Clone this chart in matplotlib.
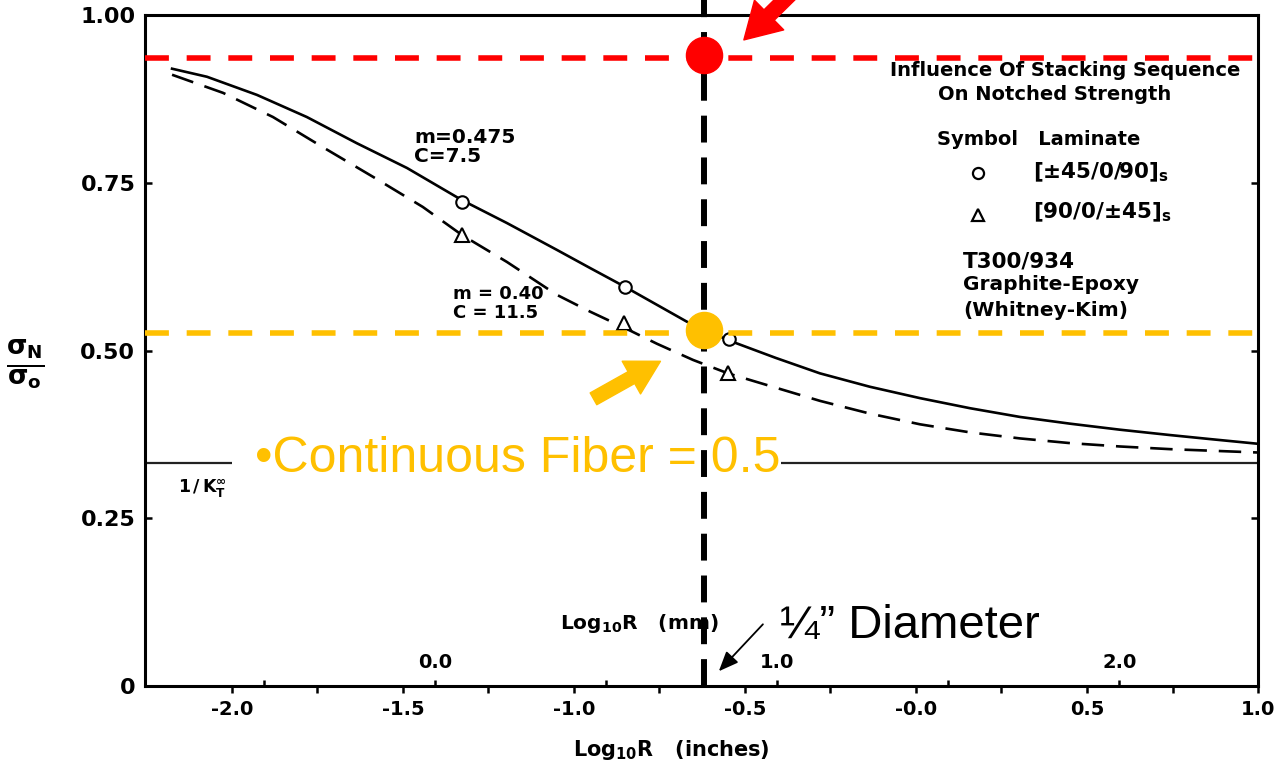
import matplotlib.pyplot as plt
from matplotlib.patches import FancyArrowPatch

# --- data (x = log10 R in inches) ---
solid_x = [-2.175, -2.073, -1.927, -1.781, -1.635, -1.488, -1.327, -1.196, -1.050, -0.953,
           -0.851, -0.757, -0.670, -0.547, -0.410, -0.281, -0.135, 0.012, 0.158, 0.304,
           0.450, 0.596, 0.743, 0.860, 1.000]
solid_y = [0.920, 0.908, 0.881, 0.848, 0.809, 0.772, 0.724, 0.690, 0.650, 0.623,
           0.595, 0.568, 0.543, 0.515, 0.489, 0.466, 0.446, 0.429, 0.414, 0.401,
           0.391, 0.382, 0.374, 0.368, 0.361]

dash_x = [-2.175, -2.026, -1.880, -1.734, -1.588, -1.442, -1.327, -1.196, -1.050, -0.953,
          -0.857, -0.757, -0.652, -0.550, -0.406, -0.281, -0.135, 0.012, 0.158, 0.304,
          0.450, 0.596, 0.743, 1.000]
dash_y = [0.911, 0.884, 0.848, 0.803, 0.759, 0.714, 0.672, 0.632, 0.583, 0.558,
          0.535, 0.510, 0.486, 0.466, 0.444, 0.425, 0.406, 0.390, 0.378, 0.369,
          0.362, 0.357, 0.353, 0.348]

circ_x = [-1.327, -0.851, -0.547]   # [+-45/0/90]s
circ_y = [0.721, 0.595, 0.517]
tri_x = [-1.327, -0.855, -0.550]    # [90/0/+-45]s
tri_y = [0.672, 0.541, 0.466]

kt_level = 0.332          # 1/K_T infinity
hole_x = -0.62            # 1/4" diameter hole
red_level = 0.936
red_pt = 0.940
orange_level = 0.526
orange_pt = 0.531

x_major = [-2.0, -1.5, -1.0, -0.5, 0.0, 0.5, 1.0]
x_major_labels = ['-2.0', '-1.5', '-1.0', '-0.5', '-0.0', '0.5', '1.0']
x_minor = [-1.75, -1.25, -0.75, -0.25, 0.25, 0.75]
y_ticks = [0, 0.25, 0.5, 0.75, 1.0]
y_labels = ['0', '0.25', '0.50', '0.75', '1.00']
mm_ticks = [-0.5, 0.0, 0.5, 1.0, 1.5, 2.0]
mm_labels = ['', '0.0', '', '1.0', '', '2.0']
mm_offset = 1.405          # log10(25.4)

ORANGE = '#FFC000'
RED = '#FF0000'
SCAN = dict(family='DejaVu Sans', fontweight='bold')

fig = plt.figure(figsize=(12.79, 7.67), dpi=100)
ax = fig.add_axes([0.1134, 0.1056, 0.8702, 0.8748])
ax.set_xlim(-2.254, 1.0)
ax.set_ylim(0, 1.0)

# fitted curves and test points
ax.plot(solid_x, solid_y, color='black', lw=1.9, zorder=3)
ax.plot(dash_x, dash_y, color='black', lw=1.9, linestyle=(0, (8.5, 4.5)), zorder=3)
ax.plot(circ_x, circ_y, 'o', ms=9, mfc='white', mec='black', mew=1.5, zorder=4)
ax.plot(tri_x, tri_y, '^', ms=10, mfc='white', mec='black', mew=1.5, zorder=4)

# 1/K_T line (broken where the overlay text sits)
ax.hlines([kt_level, kt_level], [-2.254, -0.395], [-2.0, 1.0], color='#222222', lw=1.6, zorder=2)
ax.text(-2.158, 0.288, r'$\mathbf{1\,/\,K}_{\mathbf{T}}^{\mathbf{\infty}}$', fontsize=12.5,
        ha='left', va='baseline')

# overlay reference lines
ax.axhline(red_level, color=RED, lw=4, linestyle=(0, (4.3, 3.2)), zorder=5)
ax.axhline(orange_level, color=ORANGE, lw=4, linestyle=(0, (4.3, 3.2)), zorder=5)
ax.plot([hole_x, hole_x], [0, 1.03], color='black', lw=4.3, linestyle=(0, (4.5, 2.5)),
        clip_on=False, zorder=6)
ax.plot([hole_x], [red_pt], 'o', ms=26, color=RED, zorder=7, clip_on=False)
ax.plot([hole_x], [orange_pt], 'o', ms=26, color=ORANGE, zorder=7)

# arrows
ax.add_patch(FancyArrowPatch((-0.30, 1.065), (-0.509, 0.960),
                             arrowstyle='simple,head_width=2.0,head_length=1.7,tail_width=0.7',
                             mutation_scale=15, color=RED, clip_on=False, zorder=8))
ax.add_patch(FancyArrowPatch((-0.950, 0.426), (-0.740, 0.486),
                             arrowstyle='simple,head_width=1.8,head_length=1.6,tail_width=0.65',
                             mutation_scale=15, color=ORANGE, zorder=8))
ax.add_patch(FancyArrowPatch((-0.442, 0.095), (-0.582, 0.019),
                             arrowstyle='-|>,head_width=0.25,head_length=0.6',
                             mutation_scale=20, color='black', lw=1.3, zorder=8))

# curve labels
ax.text(-1.468, 0.804, 'm=0.475\nC=7.5', fontsize=14.5, ha='left', va='center',
        linespacing=1.0, **SCAN)
ax.text(-1.355, 0.57, 'm = 0.40\nC = 11.5', fontsize=13, ha='left', va='center',
        linespacing=1.05, **SCAN)

# key block
ax.text(0.436, 0.918, 'Influence Of Stacking Sequence', fontsize=14, ha='center', va='center', **SCAN)
ax.text(0.406, 0.881, 'On Notched Strength', fontsize=14, ha='center', va='center', **SCAN)
ax.text(0.061, 0.814, 'Symbol   Laminate', fontsize=14, ha='left', va='center', **SCAN)
ax.plot([0.181], [0.765], 'o', ms=8, mfc='white', mec='black', mew=1.6)
ax.plot([0.181], [0.702], '^', ms=9, mfc='white', mec='black', mew=1.6)
ax.text(0.342, 0.765, r'[$\mathbf{\pm}$45/0/90]$_{\mathbf{s}}$', fontsize=15.5, ha='left',
        va='center', **SCAN)
ax.text(0.342, 0.706, r'[90/0/$\mathbf{\pm}$45]$_{\mathbf{s}}$', fontsize=15.5, ha='left',
        va='center', **SCAN)
ax.text(0.137, 0.632, 'T300/934', fontsize=15.5, ha='left', va='center', **SCAN)
ax.text(0.137, 0.598, 'Graphite-Epoxy', fontsize=14.5, ha='left', va='center', **SCAN)
ax.text(0.137, 0.559, '(Whitney-Kim)', fontsize=14.5, ha='left', va='center', **SCAN)

# overlay texts
ax.text(-1.933, 0.319, '\u2022Continuous Fiber = 0.5', fontsize=36, color=ORANGE,
        family='Liberation Sans', ha='left', va='baseline', zorder=9)
ax.text(-0.398, 0.0715, '\u00bc\u201d Diameter', fontsize=34, color='black',
        family='Liberation Sans', ha='left', va='baseline', zorder=9)

# axes styling
for s in ax.spines.values():
    s.set_linewidth(2.2)
ax.set_yticks(y_ticks, labels=y_labels)
ax.set_xticks(x_major, labels=x_major_labels)
ax.set_xticks(x_minor, minor=True)
ax.tick_params(axis='y', direction='in', length=5, width=1.8, right=True, pad=7, labelsize=16)
ax.tick_params(axis='x', which='both', direction='out', length=5, width=1.8, pad=5, labelsize=14)
for lab in ax.get_xticklabels() + ax.get_yticklabels():
    lab.set_fontweight('bold')

sec = ax.secondary_xaxis(0.0, functions=(lambda v: v + mm_offset, lambda v: v - mm_offset))
sec.set_alignment('top')
sec.spines['top'].set_visible(False)
sec.set_xticks(mm_ticks, labels=mm_labels)
sec.tick_params(axis='x', direction='out', length=4, width=1.8, pad=6, labelsize=14)
for lab in sec.get_xticklabels():
    lab.set_fontweight('bold')
ax.text(-1.041, 0.085, r'Log$_{\mathbf{10}}$R   (mm)', fontsize=14.5, ha='left', va='baseline', **SCAN)

ax.set_xlabel(r'Log$_{\mathbf{10}}$R   (inches)', fontsize=15, **SCAN)
ax.xaxis.set_label_coords(0.4726, -0.077)
fig.text(0.0195, 0.524, r'$\mathbf{\frac{\sigma_N}{\sigma_o}}$', fontsize=27, ha='center', va='center')

fig.savefig('out.png', dpi=100)
